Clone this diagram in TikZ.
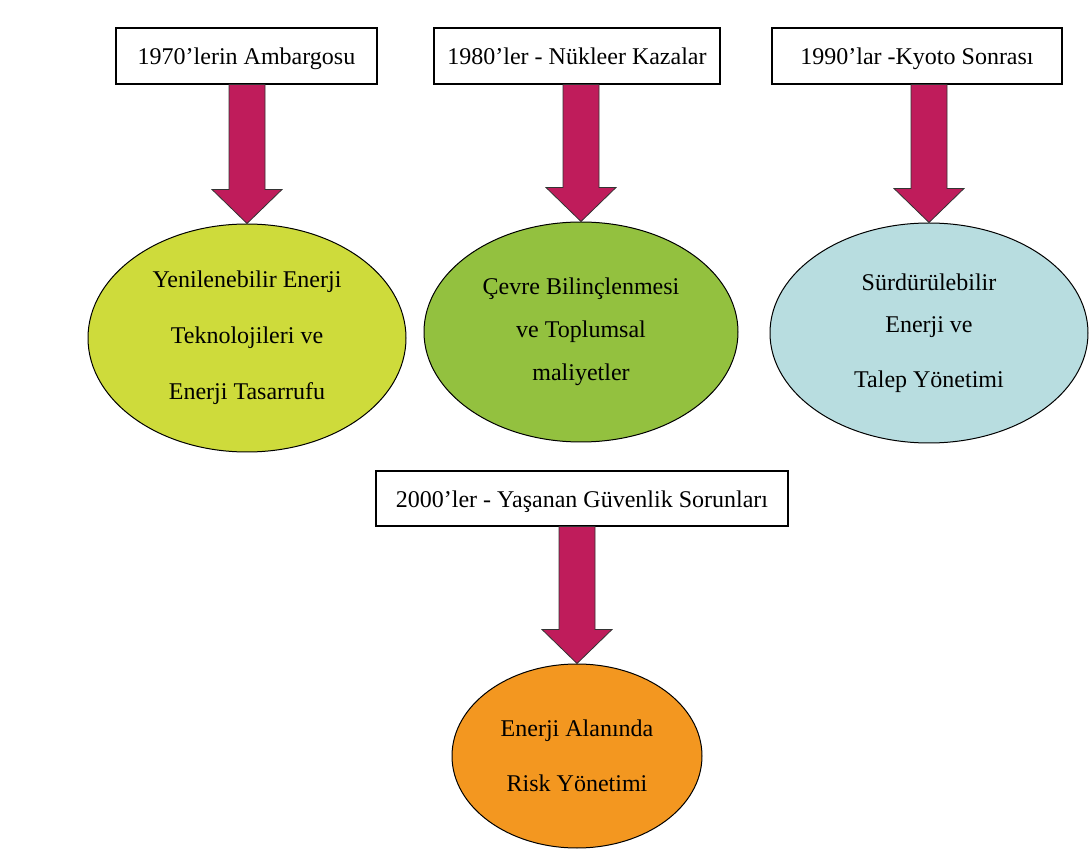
\documentclass[tikz,border=0pt]{standalone}
\usepackage{fontspec}
\setmainfont{Liberation Serif}
\usetikzlibrary{shapes.geometric, calc}
\definecolor{arrow-red}{HTML}{BF1C5B}
\definecolor{lime-fill}{HTML}{CEDB3B}
\definecolor{leaf-fill}{HTML}{93C13F}
\definecolor{ice-fill}{HTML}{B8DDE0}
\definecolor{amber-fill}{HTML}{F39720}

\begin{document}
\begin{tikzpicture}[x=0.5pt, y=-0.5pt,
      every node/.style={font=\fontsize{12}{14.5}\selectfont},
      era/.style={draw, line width=0.6pt, fill=white, minimum height=28pt, inner sep=2pt,
                  text height=10pt, text depth=1pt},
      result/.style={ellipse, draw, line width=0.5pt, align=center, inner sep=0pt}]
    \useasboundingbox (0,0) rectangle (1089,850);
    % decades
    \node[era, minimum width=130.5pt] (E70) at (246.5,56) {1970’lerin Ambargosu};
    \node[era, minimum width=143pt] (E80) at (577,56) {1980’ler - Nükleer Kazalar};
    \node[era, minimum width=145pt] (E90) at (917,56) {1990’lar -Kyoto Sonrası};
    \node[era, minimum width=206pt, minimum height=27.5pt] (E00) at (582,498.5) {2000’ler - Yaşanan Güvenlik Sorunları};
    % outcomes
    \node[result, fill=lime-fill, minimum width=159pt, minimum height=114pt] (R70) at (247,338)
      {Yenilenebilir Enerji\\[13.5pt] Teknolojileri ve\\[13.5pt] Enerji Tasarrufu};
    \node[result, fill=leaf-fill, minimum width=157pt, minimum height=110pt] (R80) at (581,332)
      {Çevre Bilinçlenmesi\\[7pt] ve Toplumsal\\[7pt] maliyetler};
    \node[result, fill=ice-fill, minimum width=159pt, minimum height=110pt] (R90) at (929,333)
      {Sürdürülebilir\\[6.5pt] Enerji ve\\[13pt] Talep Yönetimi};
    \node[result, fill=amber-fill, minimum width=125pt, minimum height=92pt] (R00) at (577,756)
      {Enerji Alanında\\[13pt] Risk Yönetimi};
    % block arrows
    \foreach \a/\b in {E70/R70, E80/R80, E90/R90, E00/R00}
      \draw[fill=arrow-red, draw=black!80, line width=0.4pt, line join=miter]
        let \p1=(\a.south), \p2=(\b.north) in
        (\x2-9pt,\y1) -- (\x2-9pt,\y2+17pt) -- (\x2-17.5pt,\y2+17pt) -- (\x2,\y2)
        -- (\x2+17.5pt,\y2+17pt) -- (\x2+9pt,\y2+17pt) -- (\x2+9pt,\y1) -- cycle;
\end{tikzpicture}
\end{document}
